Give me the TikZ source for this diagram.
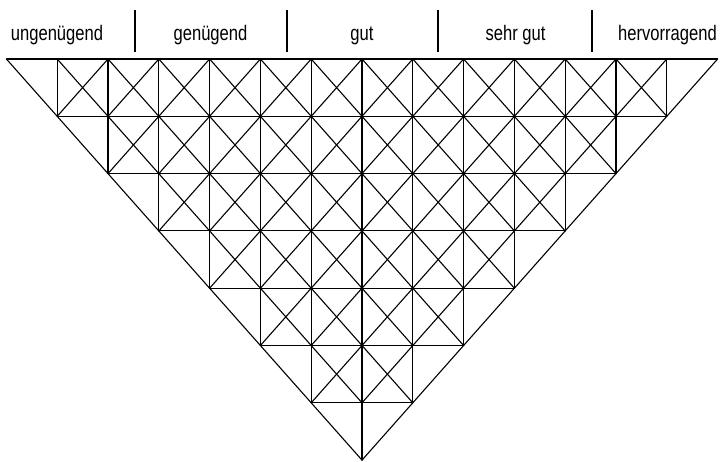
\documentclass[tikz,border=0pt]{standalone}
\usepackage{fontspec}
\setmainfont{Liberation Sans}
\newfontfamily\labfont[FakeStretch=0.79]{Liberation Sans}
\begin{document}
\begin{tikzpicture}[x=1pt,y=-1pt,
  gridline/.style={line width=1.1pt, black, line cap=round},
  sepline/.style={line width=1.1pt, black},
  lab/.style={font=\labfont\fontsize{21}{24}\selectfont, anchor=base, inner sep=0pt}]
\useasboundingbox (0,0) rectangle (720,461);
\def\cx{362}\def\w{50.8}\def\h{57.3}\def\ty{59}
\foreach \k in {0,...,6}{
  \pgfmathsetmacro\yt{\ty+\k*\h}
  \pgfmathsetmacro\yb{\ty+(\k+1)*\h}
  \pgfmathtruncatemacro\n{6-\k}
  \pgfmathtruncatemacro\nl{-\n-1}
  \pgfmathtruncatemacro\nm{\n-1}
  \pgfmathtruncatemacro\nn{-\n}
  \draw[gridline] ({\cx-(\n+1)*\w},\yt) -- ({\cx+(\n+1)*\w},\yt);
  \foreach \j in {\nn,...,\n}{
    \draw[gridline] ({\cx+\j*\w},\yt) -- ({\cx+\j*\w},\yb);
    \draw[gridline] ({\cx+(\j+1)*\w},\yt) -- ({\cx+\j*\w},\yb);
  }
  \foreach \j in {\nl,...,\nm}{
    \draw[gridline] ({\cx+\j*\w},\yt) -- ({\cx+(\j+1)*\w},\yb);
  }
}
\foreach \sx in {135,287,438,592}{
  \draw[sepline] (\sx,10) -- (\sx,52);
}
\node[lab] (l1) at (57,40) {ungenügend};
\node[lab] (l2) at (210.5,40) {genügend};
\node[lab] (l3) at (362,40) {gut};
\node[lab] (l4) at (515.5,40) {sehr gut};
\node[lab] (l5) at (667.5,40) {hervorragend};
\end{tikzpicture}
\end{document}
